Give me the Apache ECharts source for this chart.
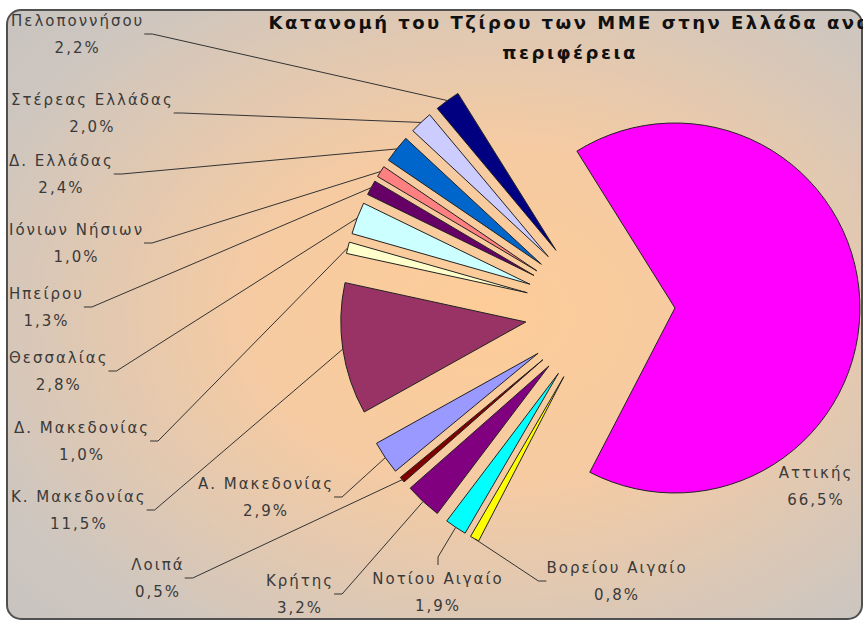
<!DOCTYPE html>
<html>
<head>
<meta charset="utf-8">
<script src="https://cdn.jsdelivr.net/npm/echarts@6/dist/echarts.min.js"></script>
<style>
  html, body { margin: 0; background: #fff; }
  #main { width: 863px; height: 624px; overflow: hidden; }
  /* the original Excel text is drawn wide and loosely spaced */
  #main text { letter-spacing: 2px; }
  #main text[style*="bold"] { letter-spacing: 2.5px; }
</style>
</head>
<body>
<div id="main"></div>
<script>
var regions = ['Αττικής', 'Βορείου Αιγαίο', 'Νοτίου Αιγαίο', 'Κρήτης', 'Λοιπά',
    'Α. Μακεδονίας', 'Κ. Μακεδονίας', 'Δ. Μακεδονίας', 'Θεσσαλίας', 'Ηπείρου',
    'Ιόνιων Νήσιων', 'Δ. Ελλάδας', 'Στέρεας Ελλάδας', 'Πελοποννήσου'];
var shares = [66.5, 0.8, 1.9, 3.2, 0.5, 2.9, 11.5, 1.0, 2.8, 1.3, 1.0, 2.4, 2.0, 2.2];
var colors = ['#ff00ff', '#ffff00', '#00ffff', '#800080', '#800000',
    '#9999ff', '#993366', '#ffffcc', '#ccffff', '#660066',
    '#ff8080', '#0066cc', '#ccccff', '#000080'];

// label placement, same order as regions: [x, y, 'c'] = centre, [x, y, 'l'] = left edge of the name
var labelPos = [[816, 486, 'c'], [617, 581, 'c'], [438, 592, 'c'], [300, 594, 'c'], [158, 578, 'c'],
    [266, 497, 'c'], [12, 510, 'l'], [15, 441, 'l'], [10, 371, 'l'], [10, 307, 'l'],
    [10, 243, 'l'], [10, 174, 'l'], [12, 113, 'l'], [12, 34, 'l']];

var LETTER = 2;
var CENTER = [600, 311];
var RADIUS = 185;
var EXPLODE = 75;
var START = 122;

var myChart = echarts.init(document.getElementById('main'), null, { renderer: 'svg' });

function padOf(name) {
    return Math.round(name.length * LETTER / 2);
}

var sliceData = regions.map(function (name, i) {
    return {
        name: name,
        value: shares[i],
        selected: true,
        itemStyle: { color: colors[i] }
    };
});

// same slices again, invisible and as wide as the exploded pie, only to carry the labels
var labelData = regions.map(function (name, i) {
    return {
        name: name,
        value: shares[i],
        label: { padding: [0, padOf(name)] },
        labelLine: { show: i !== 0 }
    };
});

var option = {
    animation: false,
    graphic: [
        {
            type: 'rect',
            z: -10,
            silent: true,
            shape: { x: 7, y: 10, width: 855, height: 609, r: 14 },
            style: {
                fill: new echarts.graphic.RadialGradient(0.56, 0.5, 0.9, [
                    { offset: 0, color: '#fdcc98' },
                    { offset: 0.3, color: '#f6cba2' },
                    { offset: 0.7, color: '#cec6bf' },
                    { offset: 1, color: '#c0c0c0' }
                ]),
                stroke: '#505050',
                lineWidth: 2
            }
        },
        {
            type: 'text',
            z: 100,
            silent: true,
            x: 570,
            y: 37,
            style: {
                text: 'Κατανομή του Τζίρου των ΜΜΕ στην Ελλάδα ανα\nπεριφέρεια',
                align: 'center',
                verticalAlign: 'middle',
                fontFamily: 'DejaVu Sans',
                fontWeight: 'bold',
                fontSize: 18,
                lineHeight: 30,
                fill: '#111'
            }
        }
    ],
    series: [
        {
            name: 'Τζίρος',
            type: 'pie',
            center: CENTER,
            radius: RADIUS,
            startAngle: START,
            selectedMode: 'multiple',
            selectedOffset: EXPLODE,
            emphasis: { disabled: true },
            itemStyle: { borderColor: '#222', borderWidth: 1 },
            select: { itemStyle: { borderColor: '#222', borderWidth: 1 } },
            label: { show: false },
            labelLine: { show: false },
            data: sliceData
        },
        {
            name: 'labels',
            type: 'pie',
            silent: true,
            z: 3,
            center: CENTER,
            radius: RADIUS + EXPLODE,
            startAngle: START,
            emphasis: { disabled: true },
            itemStyle: { color: 'rgba(0,0,0,0)', borderWidth: 0 },
            label: {
                position: 'outside',
                overflow: 'none',
                color: '#3a3a3a',
                fontFamily: 'DejaVu Sans',
                fontSize: 15,
                lineHeight: 27,
                formatter: function (p) {
                    return p.name + '\n' + p.value.toFixed(1).replace('.', ',') + '%';
                }
            },
            labelLine: {
                show: true,
                length: 10,
                length2: 8,
                smooth: false,
                lineStyle: { color: '#333', width: 1 }
            },
            labelLayout: function (params) {
                var pos = labelPos[params.dataIndex];
                var x = pos[0];
                if (pos[2] === 'l') {
                    // visible width of the name line once the letter spacing is added
                    var w = params.labelRect.width - LETTER;
                    x = pos[0] + w / 2;
                }
                return { x: x, y: pos[1], align: 'center', verticalAlign: 'middle' };
            },
            data: labelData
        }
    ]
};

myChart.setOption(option);
</script>
</body>
</html>
